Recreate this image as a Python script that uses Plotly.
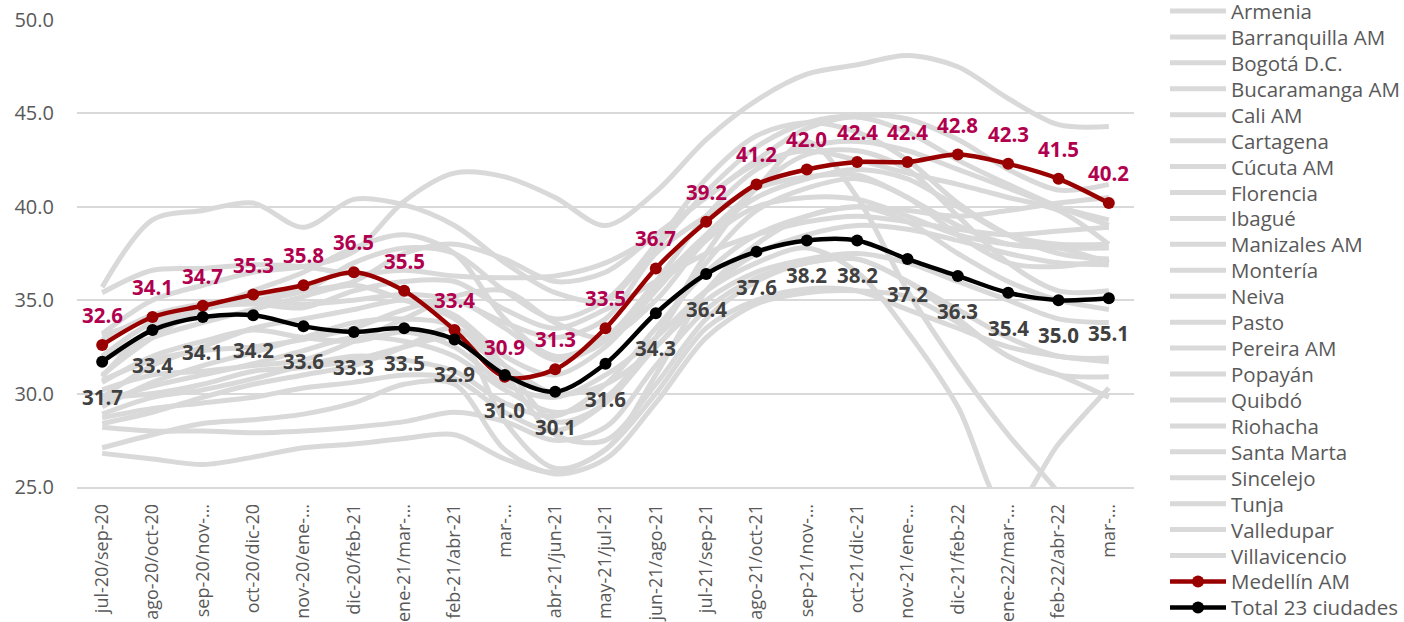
import plotly.graph_objects as go

# Rolling three-month periods (category axis) and the labels shown under them
periods = [
    "jul-20/sep-20", "ago-20/oct-20", "sep-20/nov-20", "oct-20/dic-20", "nov-20/ene-21",
    "dic-20/feb-21", "ene-21/mar-21", "feb-21/abr-21", "mar-21/may-21", "abr-21/jun-21",
    "may-21/jul-21", "jun-21/ago-21", "jul-21/sep-21", "ago-21/oct-21", "sep-21/nov-21",
    "oct-21/dic-21", "nov-21/ene-22", "dic-21/feb-22", "ene-22/mar-22", "feb-22/abr-22",
    "mar-22/may-22",
]
tick_labels = [
    "jul-20/sep-20", "ago-20/oct-20", "sep-20/nov-…", "oct-20/dic-20", "nov-20/ene-…",
    "dic-20/feb-21", "ene-21/mar-…", "feb-21/abr-21", "mar-…", "abr-21/jun-21",
    "may-21/jul-21", "jun-21/ago-21", "jul-21/sep-21", "ago-21/oct-21", "sep-21/nov-…",
    "oct-21/dic-21", "nov-21/ene-…", "dic-21/feb-22", "ene-22/mar-…", "feb-22/abr-22",
    "mar-…",
]

# Highlighted series
medellin = [32.6, 34.1, 34.7, 35.3, 35.8, 36.5, 35.5, 33.4, 30.9, 31.3, 33.5,
            36.7, 39.2, 41.2, 42.0, 42.4, 42.4, 42.8, 42.3, 41.5, 40.2]
total_23 = [31.7, 33.4, 34.1, 34.2, 33.6, 33.3, 33.5, 32.9, 31.0, 30.1, 31.6,
            34.3, 36.4, 37.6, 38.2, 38.2, 37.2, 36.3, 35.4, 35.0, 35.1]

# Background cities
armenia = [33.2, 35.0, 35.8, 36.5, 36.8, 37.6, 40.3, 41.8, 41.6, 40.5, 39.0,
           40.8, 43.6, 45.7, 47.1, 47.6, 48.1, 47.5, 45.8, 44.4, 44.3]
barranquilla = [35.7, 39.3, 39.8, 40.2, 38.9, 40.4, 40.1, 39.0, 37.0, 35.4, 35.0,
                37.8, 40.8, 43.2, 44.5, 44.9, 44.7, 43.6, 42.0, 40.9, 41.2]
bogota = [35.4, 36.6, 36.7, 36.9, 36.8, 36.4, 36.6, 36.3, 36.2, 36.3, 37.0,
          38.5, 40.5, 42.5, 44.2, 44.8, 44.0, 42.5, 41.2, 40.0, 39.0]
bucaramanga = [31.0, 33.0, 34.5, 35.3, 35.5, 36.0, 37.5, 38.0, 37.2, 36.0, 36.5,
               38.5, 40.5, 42.3, 43.0, 42.5, 41.8, 41.2, 40.5, 39.8, 38.0]
cali = [32.9, 34.2, 34.8, 35.0, 35.5, 37.0, 37.8, 37.5, 35.5, 34.0, 35.0,
        38.0, 41.5, 43.8, 44.5, 44.0, 42.5, 40.2, 38.5, 37.5, 37.2]
cartagena = [30.6, 32.0, 32.8, 33.4, 33.0, 32.8, 33.3, 32.5, 30.5, 29.8, 31.0,
             33.0, 35.5, 37.0, 37.8, 36.5, 33.3, 29.3, 23.6, 27.3, 30.3]
cucuta = [29.8, 31.5, 32.5, 33.5, 34.0, 34.5, 35.0, 34.2, 32.0, 31.0, 32.5,
          35.5, 38.5, 41.0, 43.5, 40.5, 35.5, 31.4, 27.8, 24.7, 21.0]
florencia = [26.8, 26.5, 26.2, 26.6, 27.1, 27.3, 27.6, 27.8, 26.5, 25.8, 27.0,
             30.0, 33.5, 35.0, 35.6, 35.5, 34.5, 33.5, 32.5, 32.0, 31.7]
ibague = [27.1, 27.8, 28.4, 28.6, 28.9, 29.5, 30.5, 30.5, 27.0, 25.7, 26.5,
          29.5, 33.0, 34.8, 35.4, 35.5, 35.2, 33.8, 32.0, 31.0, 30.9]
manizales = [28.2, 28.0, 28.0, 27.9, 28.0, 28.2, 28.5, 29.0, 28.5, 27.5, 28.2,
             31.5, 34.5, 36.2, 37.0, 37.2, 36.0, 34.5, 33.0, 32.0, 31.9]
monteria = [28.7, 29.2, 29.5, 29.8, 30.3, 30.6, 31.0, 30.8, 29.0, 28.0, 29.5,
            32.5, 35.0, 36.5, 37.2, 37.5, 37.0, 36.0, 35.0, 34.0, 33.8]
neiva = [28.9, 29.8, 30.2, 30.8, 31.5, 32.0, 31.8, 31.2, 29.5, 28.8, 30.5,
         33.5, 36.5, 38.5, 39.5, 40.0, 39.2, 37.5, 36.0, 35.0, 34.5]
pasto = [29.6, 30.4, 31.0, 31.6, 32.3, 33.0, 32.8, 32.0, 30.2, 29.0, 29.8,
         33.0, 37.0, 39.8, 41.0, 41.5, 40.5, 38.5, 37.0, 36.8, 37.2]
pereira = [29.8, 30.0, 30.5, 31.2, 31.4, 31.8, 32.5, 33.0, 31.5, 30.0, 30.5,
           32.5, 35.5, 37.5, 38.5, 39.0, 38.8, 38.2, 37.5, 37.0, 36.9]
popayan = [30.7, 31.8, 32.3, 32.5, 32.9, 33.5, 34.5, 35.0, 33.5, 31.8, 32.8,
           35.8, 38.5, 40.5, 41.5, 42.0, 41.5, 40.0, 38.5, 38.0, 38.0]
quibdo = [30.9, 33.5, 34.5, 35.0, 34.8, 35.0, 35.3, 35.0, 33.8, 33.0, 34.0,
          37.5, 39.5, 41.0, 41.6, 41.7, 40.5, 39.0, 38.0, 37.8, 37.8]
riohacha = [33.1, 34.0, 34.6, 34.8, 34.6, 35.5, 36.0, 36.0, 34.5, 33.5, 34.5,
            36.0, 37.5, 38.5, 39.2, 39.5, 39.2, 38.8, 38.5, 38.7, 38.9]
santa_marta = [31.8, 33.0, 33.8, 34.5, 35.2, 35.8, 35.0, 34.0, 31.5, 28.5, 29.5,
               33.0, 37.5, 41.0, 42.8, 43.0, 42.0, 39.5, 37.0, 35.5, 35.5]
sincelejo = [28.4, 29.0, 29.8, 30.5, 31.0, 31.5, 32.5, 33.5, 31.0, 27.8, 27.5,
             30.5, 34.0, 36.0, 37.0, 37.2, 36.0, 34.0, 32.0, 31.0, 29.8]
tunja = [30.2, 31.0, 31.2, 31.5, 31.8, 32.8, 34.0, 35.2, 35.5, 33.8, 33.0,
         35.0, 38.2, 40.0, 40.5, 40.4, 39.5, 38.5, 38.0, 37.8, 37.0]
valledupar = [29.3, 30.6, 31.5, 32.2, 33.0, 33.8, 34.0, 33.5, 28.5, 26.0, 27.0,
              31.0, 35.5, 38.0, 39.5, 40.0, 39.8, 39.5, 39.8, 40.2, 40.5]
villavicencio = [32.0, 33.8, 34.5, 35.5, 36.5, 37.8, 38.5, 37.5, 34.0, 32.0, 33.0,
                 36.0, 39.5, 42.0, 43.2, 43.5, 43.0, 42.0, 41.0, 40.0, 39.3]

city_names = [
    "Armenia", "Barranquilla AM", "Bogotá D.C.", "Bucaramanga AM", "Cali AM",
    "Cartagena", "Cúcuta AM", "Florencia", "Ibagué", "Manizales AM", "Montería",
    "Neiva", "Pasto", "Pereira AM", "Popayán", "Quibdó", "Riohacha", "Santa Marta",
    "Sincelejo", "Tunja", "Valledupar", "Villavicencio",
]
city_series = [
    armenia, barranquilla, bogota, bucaramanga, cali, cartagena, cucuta, florencia,
    ibague, manizales, monteria, neiva, pasto, pereira, popayan, quibdo, riohacha,
    santa_marta, sincelejo, tunja, valledupar, villavicencio,
]

FONT = "Open Sans"
GREY = "#D9D9D9"
TEXT = "#595959"
RED = "#990000"
RED_LABEL = "#B0004E"
DARK_LABEL = "#404040"

W, H = 1404, 622
M_L, M_R, M_T, M_B = 77, 270, 20, 135
PLOT_W = W - M_L - M_R
PLOT_H = H - M_T - M_B


def px_x(px):
    return (px - M_L) / PLOT_W


def px_y(py):
    return (H - M_B - py) / PLOT_H


fig = go.Figure()

for name, vals in zip(city_names, city_series):
    fig.add_trace(go.Scatter(
        x=periods, y=vals, name=name, mode="lines",
        line=dict(color=GREY, width=5, shape="spline", smoothing=0.9),
        hoverinfo="skip",
    ))

fig.add_trace(go.Scatter(
    x=periods, y=medellin, name="Medellín AM", mode="lines+markers",
    line=dict(color=RED, width=4.5, shape="spline", smoothing=0.9),
    marker=dict(color=RED, size=12),
))
fig.add_trace(go.Scatter(
    x=periods, y=total_23, name="Total 23 ciudades", mode="lines+markers",
    line=dict(color="#000000", width=4.5, shape="spline", smoothing=0.9),
    marker=dict(color="#000000", size=12),
))

# Value labels: Medellín above its points, total below
annotations = []
for p, v in zip(periods, medellin):
    annotations.append(dict(
        x=p, y=v, text=f"{v:.1f}", showarrow=False, yshift=30,
        font=dict(family=FONT, size=20.5, color=RED_LABEL, weight="bold"),
    ))
for p, v in zip(periods, total_23):
    annotations.append(dict(
        x=p, y=v, text=f"{v:.1f}", showarrow=False, yshift=-35,
        font=dict(family=FONT, size=20.5, color=DARK_LABEL, weight="bold"),
    ))

# Legend column on the right: a line sample and the series name per row
legend_entries = [(n, GREY, False) for n in city_names]
legend_entries += [("Medellín AM", RED, True), ("Total 23 ciudades", "#000000", True)]
shapes = []
row0, row_gap = 11, 25.93
for i, (name, color, has_marker) in enumerate(legend_entries):
    cy = row0 + i * row_gap
    shapes.append(dict(
        type="line", xref="paper", yref="paper",
        x0=px_x(1170), x1=px_x(1226), y0=px_y(cy), y1=px_y(cy),
        line=dict(color=color, width=5 if not has_marker else 4.5),
    ))
    if has_marker:
        shapes.append(dict(
            type="circle", xref="paper", yref="paper",
            x0=px_x(1192), x1=px_x(1204), y0=px_y(cy + 6), y1=px_y(cy - 6),
            fillcolor=color, line=dict(color=color, width=0),
        ))
    annotations.append(dict(
        xref="paper", yref="paper", x=px_x(1229), y=px_y(cy),
        xanchor="left", yanchor="middle", showarrow=False, text=name,
        font=dict(family=FONT, size=20.5, color=TEXT),
    ))

fig.update_layout(
    width=W, height=H, autosize=False,
    margin=dict(l=M_L, r=M_R, t=M_T, b=M_B, pad=0),
    paper_bgcolor="white", plot_bgcolor="white",
    font=dict(family=FONT, color=TEXT),
    annotations=annotations, shapes=shapes,
    showlegend=False,
    hovermode=False,
)
fig.update_xaxes(
    type="category", categoryorder="array", categoryarray=periods,
    range=[-0.5, len(periods) - 0.5],
    tickmode="array", tickvals=periods, ticktext=tick_labels,
    tickangle=-90, tickfont=dict(family=FONT, size=18, color=TEXT),
    showgrid=False, showline=True, linecolor=GREY, linewidth=1.5,
    ticks="", automargin=False, ticklabelstandoff=8,
)
fig.update_yaxes(
    range=[25, 50], dtick=5, tick0=25, tickformat=".1f",
    tickfont=dict(family=FONT, size=20, color=TEXT),
    showgrid=True, gridcolor=GREY, gridwidth=1.5, zeroline=False,
    showline=False, ticks="", automargin=False, ticklabelstandoff=22,
)

fig.write_html("out.html")
